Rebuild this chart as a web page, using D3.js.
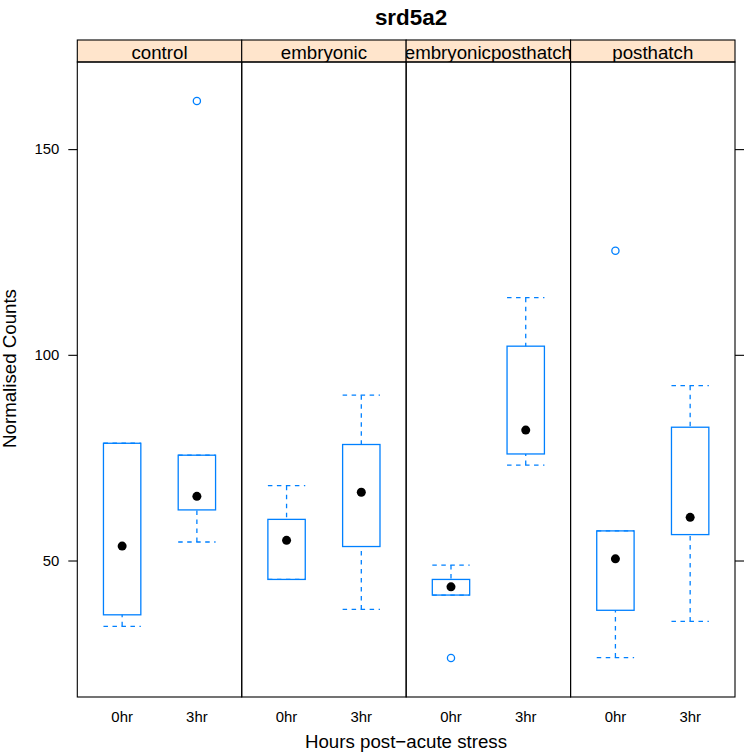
<!DOCTYPE html>
<html>
<head>
<meta charset="utf-8">
<script src="https://cdn.jsdelivr.net/npm/d3@7/dist/d3.min.js"></script>
<style>
  html, body { margin: 0; padding: 0; background: #fff; }
  svg { display: block; }
  text { font-family: "Liberation Sans", Arial, Helvetica, sans-serif; }
</style>
</head>
<body>
<svg id="chart" width="747" height="754"></svg>
<script>
// ---- data ----
const panels = ["control", "embryonic", "embryonicposthatch", "posthatch"];
const hours = ["0hr", "3hr"];
// per panel: [0hr, 3hr]
const lowerWhisker = [[34.0, 54.5], [45.4, 38.1], [41.6, 73.2], [26.4, 35.2]];
const lowerHinge   = [[36.8, 62.3], [45.4, 53.4], [41.6, 75.9], [37.9, 56.3]];
const medians      = [[53.5, 65.6], [54.9, 66.6], [43.6, 81.7], [50.4, 60.5]];
const upperHinge   = [[78.5, 75.6], [60.0, 78.2], [45.4, 102.1], [57.2, 82.4]];
const upperWhisker = [[78.5, 75.6], [68.2, 90.2], [48.9, 113.9], [57.2, 92.5]];
const outliers     = [[[], [161.7]], [[], []], [[26.3], []], [[125.3], []]];
const yTicks = [50, 100, 150];
const titleText = "srd5a2";
const xLabel = "Hours post\u2212acute stress";
const yLabel = "Normalised Counts";

(function () {
// ---- layout ----
const svg = d3.select("#chart");
const padL = 77.3, padR = 735, stripTop = 40, plotTop = 62, plotBottom = 697;
const blue = "#0080ff";

const allVals = [];
panels.forEach((p, i) => hours.forEach((h, j) => {
  allVals.push(lowerWhisker[i][j], upperWhisker[i][j], ...outliers[i][j]);
}));
const vmin = d3.min(allVals), vmax = d3.max(allVals);
const pad = (vmax - vmin) * 0.07;

const y = d3.scaleLinear().domain([vmin - pad, vmax + pad]).range([plotBottom, plotTop]);
const px = d3.scaleBand().domain(panels).range([padL, padR]).padding(0);
const pw = px.bandwidth();
const x = d3.scaleLinear().domain([0.4, 2.6]).range([0, pw]);
const boxW = x(1.25) - x(1.0); // half of box width (box width 0.5 units)

// title
svg.append("text")
  .attr("x", 411).attr("y", 25)
  .attr("text-anchor", "middle")
  .attr("font-size", 22.4).attr("font-weight", "bold")
  .text(titleText);

// panels
panels.forEach((p, i) => {
  const g = svg.append("g").attr("transform", `translate(${px(p)},0)`);
  const clipId = "clip" + i;
  svg.append("clipPath").attr("id", clipId)
    .append("rect").attr("x", px(p)).attr("y", stripTop).attr("width", pw).attr("height", plotTop - stripTop);

  // strip
  svg.append("rect")
    .attr("x", px(p)).attr("y", stripTop).attr("width", pw).attr("height", plotTop - stripTop)
    .attr("fill", "#ffe5cc");
  svg.append("text")
    .attr("clip-path", `url(#${clipId})`)
    .attr("x", px(p) + pw / 2).attr("y", 58.5)
    .attr("text-anchor", "middle")
    .attr("font-size", 18.7)
    .text(p);
  svg.append("rect")
    .attr("x", px(p)).attr("y", stripTop).attr("width", pw).attr("height", plotTop - stripTop)
    .attr("fill", "none").attr("stroke", "#000").attr("stroke-width", 1.1);

  hours.forEach((h, j) => {
    const cx = x(j + 1);
    const lw = lowerWhisker[i][j], q1 = lowerHinge[i][j], md = medians[i][j],
          q3 = upperHinge[i][j], uw = upperWhisker[i][j];
    const dash = "4.5,4.5";
    // whiskers (from whisker end to hinge)
    g.append("line").attr("x1", cx).attr("x2", cx).attr("y1", y(uw)).attr("y2", y(q3))
      .attr("stroke", blue).attr("stroke-width", 1.3).attr("stroke-dasharray", dash);
    g.append("line").attr("x1", cx).attr("x2", cx).attr("y1", y(lw)).attr("y2", y(q1))
      .attr("stroke", blue).attr("stroke-width", 1.3).attr("stroke-dasharray", dash);
    // caps
    [uw, lw].forEach(v => {
      g.append("line").attr("x1", cx - boxW).attr("x2", cx + boxW).attr("y1", y(v)).attr("y2", y(v))
        .attr("stroke", blue).attr("stroke-width", 1.3).attr("stroke-dasharray", dash);
    });
    // box
    g.append("rect")
      .attr("x", cx - boxW).attr("width", 2 * boxW)
      .attr("y", y(q3)).attr("height", y(q1) - y(q3))
      .attr("fill", "none").attr("stroke", blue).attr("stroke-width", 1.3);
    // median dot
    g.append("circle").attr("cx", cx).attr("cy", y(md)).attr("r", 4.5).attr("fill", "#000");
    // outliers
    outliers[i][j].forEach(v => {
      g.append("circle").attr("cx", cx).attr("cy", y(v)).attr("r", 3.6)
        .attr("fill", "none").attr("stroke", blue).attr("stroke-width", 1.3);
    });
  });

  // x tick labels
  hours.forEach((h, j) => {
    g.append("text").attr("x", x(j + 1)).attr("y", 722)
      .attr("text-anchor", "middle").attr("font-size", 14.9).text(h);
  });

  // panel border
  svg.append("rect")
    .attr("x", px(p)).attr("y", plotTop).attr("width", pw).attr("height", plotBottom - plotTop)
    .attr("fill", "none").attr("stroke", "#000").attr("stroke-width", 1.1);
});

// y axis left
const yAxisL = d3.axisLeft(y).tickValues(yTicks).tickSize(9).tickPadding(9).tickSizeOuter(0);
const gl = svg.append("g").attr("transform", `translate(${padL},0)`).call(yAxisL);
gl.select(".domain").remove();
gl.selectAll("line").attr("stroke", "#000").attr("stroke-width", 1.1);
gl.selectAll("text").attr("font-size", 14.9)
  .attr("font-family", "\"Liberation Sans\", Arial, sans-serif").attr("fill", "#000");

// y axis right (ticks only)
const yAxisR = d3.axisRight(y).tickValues(yTicks).tickSize(9).tickFormat("").tickSizeOuter(0);
const gr = svg.append("g").attr("transform", `translate(${padR},0)`).call(yAxisR);
gr.select(".domain").remove();
gr.selectAll("line").attr("stroke", "#000").attr("stroke-width", 1.1);

// axis labels
svg.append("text")
  .attr("x", 406).attr("y", 748)
  .attr("text-anchor", "middle").attr("font-size", 18.7)
  .text(xLabel);
svg.append("text")
  .attr("transform", `translate(16,368.5) rotate(-90)`)
  .attr("text-anchor", "middle").attr("font-size", 18.7)
  .text(yLabel);
})();
</script>
</body>
</html>
